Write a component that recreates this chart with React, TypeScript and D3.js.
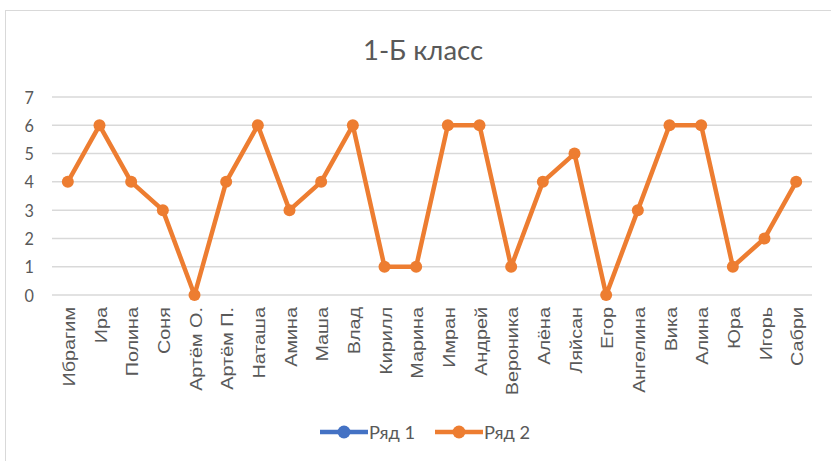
import React, { useEffect, useRef } from 'react'
import * as d3 from 'd3'

// pupils and their marks
const pupils = [
  'Ибрагим', 'Ира', 'Полина', 'Соня', 'Артём О.', 'Артём П.', 'Наташа', 'Амина',
  'Маша', 'Влад', 'Кирилл', 'Марина', 'Имран', 'Андрей', 'Вероника', 'Алёна',
  'Ляйсан', 'Егор', 'Ангелина', 'Вика', 'Алина', 'Юра', 'Игорь', 'Сабри'
]
const series2 = [4, 6, 4, 3, 0, 4, 6, 3, 4, 6, 1, 1, 6, 6, 1, 4, 5, 0, 3, 6, 6, 1, 2, 4]
const yTicks = [0, 1, 2, 3, 4, 5, 6, 7]
const legendItems = [
  { name: 'Ряд 1', color: '#4472C4' },
  { name: 'Ряд 2', color: '#ED7D31' }
]

const W = 831
const H = 461

const App = () => {
  const ref = useRef<HTMLDivElement>(null)

  useEffect(() => {
    const el = ref.current
    d3.select(el).select('svg').remove()

    const svg = d3.select(el)
      .append('svg')
      .attr('width', W)
      .attr('height', H)
      .style('position', 'absolute')
      .style('left', 0)
      .style('top', 0)
      .style('background', '#fff')

    // chart frame
    svg.append('rect')
      .attr('x', 5.5).attr('y', 10.5)
      .attr('width', 860).attr('height', 480)
      .attr('fill', '#fff').attr('stroke', '#d9d9d9')

    const x = d3.scaleBand().domain(pupils).range([52, 812])
    const y = d3.scaleLinear().domain([0, 7]).range([295, 97])

    svg.append('text')
      .attr('x', 363).attr('y', 60)
      .attr('textLength', 120)
      .attr('lengthAdjust', 'spacingAndGlyphs')
      .attr('font-family', 'Lato, sans-serif')
      .attr('font-size', 27)
      .attr('fill', '#595959')
      .text('1-Б класс')

    // grid lines + y labels
    svg.append('g').selectAll('line')
      .data(yTicks).enter().append('line')
      .attr('x1', 52).attr('x2', 812)
      .attr('y1', d => y(d)).attr('y2', d => y(d))
      .attr('stroke', '#d9d9d9').attr('stroke-width', 1.5)

    svg.append('g').selectAll('text')
      .data(yTicks).enter().append('text')
      .attr('transform', d => `translate(34, ${y(d) + 6.5}) scale(0.9, 1)`)
      .attr('text-anchor', 'end')
      .attr('font-family', 'Lato, sans-serif')
      .attr('font-size', 18)
      .attr('fill', '#595959')
      .text(d => d)

    // x labels, rotated and stretched a bit along their length
    svg.append('g').selectAll('text')
      .data(pupils).enter().append('text')
      .attr('transform', d => `translate(${x(d)! + x.bandwidth() / 2 + 7}, 307) rotate(-90) scale(1.2, 1)`)
      .attr('text-anchor', 'end')
      .attr('font-family', '"Liberation Sans", Arial, sans-serif')
      .attr('font-size', 16.5)
      .attr('fill', '#595959')
      .text(d => d)

    const cx = (d: string) => x(d)! + x.bandwidth() / 2
    const line = d3.line<number>()
      .x((_, i) => cx(pupils[i]))
      .y(d => y(d))

    svg.append('path')
      .datum(series2)
      .attr('d', line)
      .attr('fill', 'none')
      .attr('stroke', '#ED7D31')
      .attr('stroke-width', 4.5)
      .attr('stroke-linejoin', 'round')

    svg.append('g').selectAll('circle')
      .data(series2).enter().append('circle')
      .attr('cx', (_, i) => cx(pupils[i]))
      .attr('cy', d => y(d))
      .attr('r', 6)
      .attr('fill', '#ED7D31')

    // legend
    const lx = [320, 435]
    const lg = svg.append('g').selectAll('g')
      .data(legendItems).enter().append('g')
      .attr('transform', (_, i) => `translate(${lx[i]}, 432)`)
    lg.append('line')
      .attr('x1', 0).attr('x2', 48).attr('y1', 0).attr('y2', 0)
      .attr('stroke', d => d.color).attr('stroke-width', 4.5)
    lg.append('circle')
      .attr('cx', 24).attr('cy', 0).attr('r', 6.5)
      .attr('fill', d => d.color)
    lg.append('text')
      .attr('x', 49).attr('y', 6.5)
      .attr('textLength', 46)
      .attr('lengthAdjust', 'spacingAndGlyphs')
      .attr('font-family', 'Lato, sans-serif')
      .attr('font-size', 18)
      .attr('fill', '#595959')
      .text(d => d.name)
  }, [])

  return <div ref={ref}></div>
}

export default App
